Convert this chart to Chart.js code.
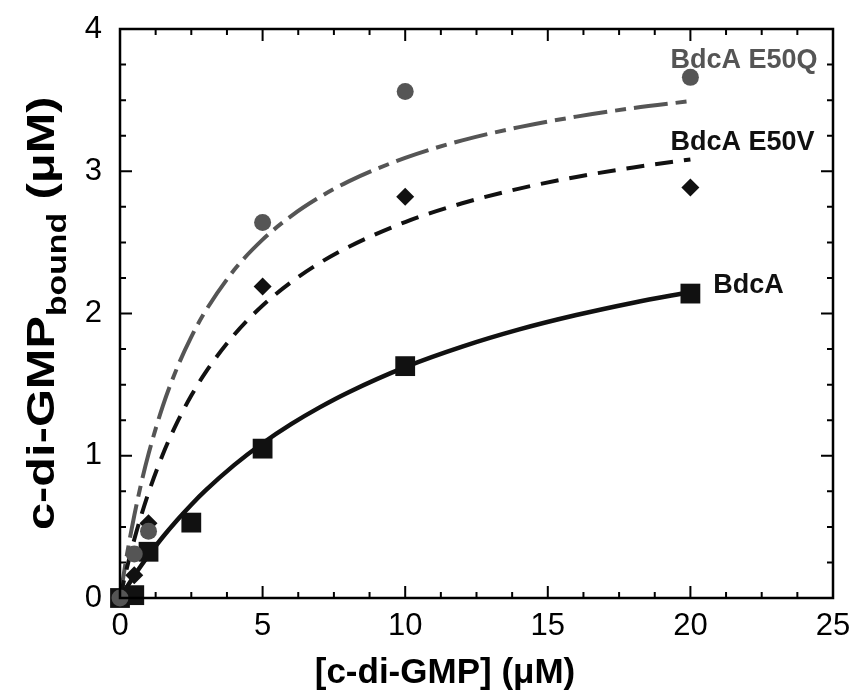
<!DOCTYPE html>
<html>
<head>
<meta charset="utf-8">
<script src="https://cdn.jsdelivr.net/npm/chart.js@4"></script>
<style>
  body { margin: 0; background: #fff; }
  #wrap { width: 856px; height: 692px; }
</style>
</head>
<body>
<div id="wrap"><canvas id="myChart" width="856" height="692"></canvas></div>
<script>
// measured points
const concs = [0, 0.5, 1, 2.5, 5, 10, 20];
const bdcA = [0, 0.02, 0.325, 0.53, 1.05, 1.63, 2.14];
const concsMut = [0, 0.5, 1, 5, 10, 20];
const e50v = [0, 0.16, 0.525, 2.19, 2.82, 2.885];
const e50q = [0, 0.31, 0.47, 2.64, 3.56, 3.66];

// fitted curves
const fitX = [0, 0.25, 0.5, 0.75, 1, 1.5, 2, 2.5, 3, 4, 5, 6, 7, 8, 10, 12, 14, 16, 18, 20];
const fitBdcA = [0, 0.08, 0.157, 0.23, 0.299, 0.429, 0.547, 0.656, 0.756, 0.934, 1.088, 1.222, 1.34, 1.445, 1.623, 1.767, 1.888, 1.989, 2.076, 2.151];
const fitE50V = [0, 0.218, 0.411, 0.584, 0.74, 1.009, 1.233, 1.423, 1.586, 1.85, 2.056, 2.22, 2.355, 2.467, 2.643, 2.775, 2.878, 2.96, 3.027, 3.083];
const fitE50Q = [0, 0.312, 0.579, 0.811, 1.013, 1.349, 1.617, 1.836, 2.018, 2.305, 2.519, 2.685, 2.818, 2.927, 3.094, 3.217, 3.31, 3.384, 3.444, 3.493];

const xTicks = [0, 5, 10, 15, 20, 25];
const yTicks = [0, 1, 2, 3, 4];

const seriesLabels = ['BdcA E50Q', 'BdcA E50V', 'BdcA'];
const labelX = [19.3, 19.3, 20.8];
const labelY = [3.78, 3.2, 2.2];

const BLACK = '#111';
const GRAY = '#555';
const FONT = "'Liberation Sans', Arial, sans-serif";

function pts(xs, ys) {
  return xs.map((x, i) => ({ x: x, y: ys[i] }));
}

// frame, inward ticks, titles and series labels
const decor = {
  id: 'decor',
  afterDraw(chart) {
    const ctx = chart.ctx;
    const a = chart.chartArea;
    const xs = chart.scales.x;
    const ys = chart.scales.y;
    ctx.save();
    ctx.strokeStyle = '#000';
    ctx.lineWidth = 2.5;
    ctx.strokeRect(a.left, a.top, a.right - a.left, a.bottom - a.top);

    ctx.lineWidth = 2;
    ctx.beginPath();
    for (let i = 0; i <= 20; i++) {
      const px = xs.getPixelForValue(i * 1.25);
      const len = i % 4 === 0 ? 12 : 6;
      ctx.moveTo(px, a.bottom); ctx.lineTo(px, a.bottom - len);
      ctx.moveTo(px, a.top); ctx.lineTo(px, a.top + len);
    }
    for (let i = 0; i <= 16; i++) {
      const py = ys.getPixelForValue(i * 0.25);
      const len = i % 4 === 0 ? 12 : 6;
      ctx.moveTo(a.left, py); ctx.lineTo(a.left + len, py);
      ctx.moveTo(a.right, py); ctx.lineTo(a.right - len, py);
    }
    ctx.stroke();

    // x title
    ctx.fillStyle = '#000';
    ctx.font = 'bold 35px ' + FONT;
    ctx.textAlign = 'center';
    ctx.textBaseline = 'alphabetic';
    ctx.fillText('[c-di-GMP] (\u03bcM)', 445, 683);

    // y title with subscript (a bit stretched along its length, like the original)
    ctx.save();
    ctx.translate(54, 530);
    ctx.rotate(-Math.PI / 2);
    ctx.scale(1.25, 1);
    ctx.textAlign = 'left';
    ctx.font = 'bold 39px ' + FONT;
    let t1 = 'c-di-GMP';
    ctx.fillText(t1, 0, 0);
    let w = ctx.measureText(t1).width;
    ctx.font = 'bold 27px ' + FONT;
    ctx.fillText('bound', w, 12);
    w += ctx.measureText('bound').width;
    ctx.font = 'bold 39px ' + FONT;
    ctx.fillText(' (\u03bcM)', w, 0);
    ctx.restore();

    // series labels
    ctx.font = 'bold 27px ' + FONT;
    ctx.textAlign = 'left';
    ctx.textBaseline = 'middle';
    const cols = [GRAY, BLACK, BLACK];
    seriesLabels.forEach((s, i) => {
      ctx.fillStyle = cols[i];
      ctx.fillText(s, xs.getPixelForValue(labelX[i]), ys.getPixelForValue(labelY[i]));
    });
    ctx.restore();
  }
};

var ctx = document.getElementById('myChart').getContext('2d');
var chart = new Chart(ctx, {
    type: 'scatter',
    data: {
        datasets: [
          { data: pts(fitX, fitBdcA), showLine: true, borderColor: BLACK, borderWidth: 4.5, pointRadius: 0, cubicInterpolationMode: 'monotone', order: 2, clip: false },
          { data: pts(fitX, fitE50V), showLine: true, borderColor: BLACK, borderWidth: 4, borderDash: [18, 11], pointRadius: 0, cubicInterpolationMode: 'monotone', order: 2, clip: false },
          { data: pts(fitX, fitE50Q), showLine: true, borderColor: GRAY, borderWidth: 4, borderDash: [34, 8, 11, 8], pointRadius: 0, cubicInterpolationMode: 'monotone', order: 2, clip: false },
          { data: pts(concs, bdcA), pointStyle: 'rect', pointRadius: 14, backgroundColor: BLACK, borderColor: BLACK, borderWidth: 0, order: 1, clip: false },
          { data: pts(concsMut, e50v), pointStyle: 'rectRot', pointRadius: 9, backgroundColor: BLACK, borderColor: BLACK, borderWidth: 0, order: 1, clip: false },
          { data: pts(concsMut, e50q), pointStyle: 'circle', pointRadius: 8.5, backgroundColor: GRAY, borderColor: GRAY, borderWidth: 0, order: 0, clip: false }
        ]
    },
    options: {
      responsive: false,
      animation: false,
      layout: { padding: { left: 0, right: 23, top: 29, bottom: 0 } },
      plugins: { legend: { display: false }, tooltip: { enabled: false } },
      scales: {
        x: {
          type: 'linear', min: 0, max: 25,
          afterBuildTicks: (s) => { s.ticks = xTicks.map(v => ({ value: v })); },
          afterFit: (s) => { s.height = 94; s.paddingLeft = 0; s.paddingRight = 0; },
          grid: { display: false, drawTicks: false },
          border: { display: false },
          ticks: { color: '#000', font: { family: FONT, size: 31 }, padding: 10, maxRotation: 0 }
        },
        y: {
          type: 'linear', min: 0, max: 4,
          afterBuildTicks: (s) => { s.ticks = yTicks.map(v => ({ value: v })); },
          afterFit: (s) => { s.width = 120; s.paddingTop = 0; s.paddingBottom = 0; },
          grid: { display: false, drawTicks: false },
          border: { display: false },
          ticks: { color: '#000', font: { family: FONT, size: 31 }, padding: 18 }
        }
      }
    },
    plugins: [decor]
});
</script>
</body>
</html>
